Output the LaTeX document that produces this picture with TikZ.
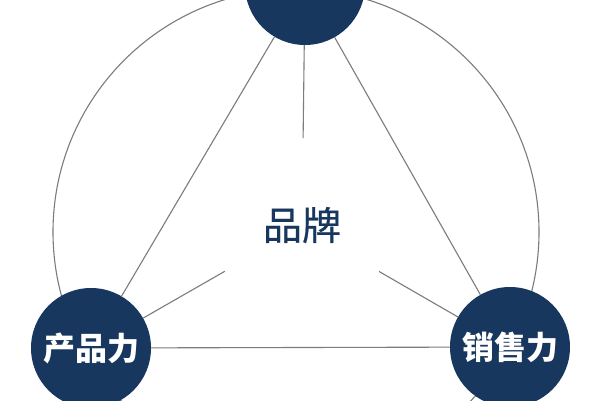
\documentclass[tikz,border=0pt]{standalone}
\usepackage{fontspec}
\newfontfamily\cjk{Noto Sans CJK SC}
\newfontfamily\cjkmed[FakeBold=0.6]{Noto Sans CJK SC}
\usetikzlibrary{calc}
\definecolor{navy}{HTML}{17375E}
\definecolor{linegray}{HTML}{7C7C7C}
\tikzset{
  ball/.style={circle, fill=navy, draw=none, minimum size=120pt, inner sep=0pt, text=white, font=\cjk\bfseries\fontsize{32}{34}\selectfont},
  thin line/.style={draw=linegray, line width=1.1pt},
}
\begin{document}
\begin{tikzpicture}[x=1pt,y=-1pt]
\useasboundingbox (0,0) rectangle (600,400);
\fill[white] (0,0) rectangle (600,400);
\node[circle, thin line, minimum size=486pt, inner sep=0pt] (outer) at (296,232) {};
\coordinate (c) at (302,227);
\node[ball, minimum size=120pt] (top) at (305,-15) {};
\node[ball] (bl) at (91,348) {产品力};
\node[ball] (br) at (510,347) {销售力};
\draw[thin line] (top) -- (bl);
\draw[thin line] (top) -- (br);
\draw[thin line] (bl) -- (br);
\draw[thin line] ($(c)!89pt!(top.center)$) -- (top);
\draw[thin line] ($(c)!89pt!(bl.center)$) -- (bl);
\draw[thin line] ($(c)!89pt!(br.center)$) -- (br);
\node[text=navy, font=\cjkmed\fontsize{39}{41}\selectfont] (brand) at (302,225) {品牌};
\end{tikzpicture}
\end{document}
